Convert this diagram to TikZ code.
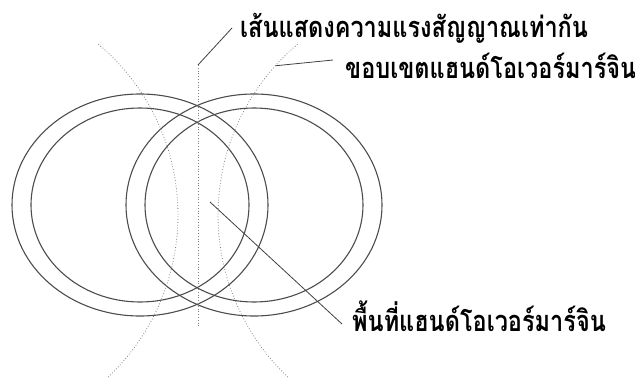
\documentclass[tikz,border=0pt]{standalone}
\usepackage{fontspec}
\newfontfamily\thaifont[Script=Thai, FakeStretch=0.81]{Loma}
\tikzset{
  ring/.style={line width=1.1pt, draw=black!70},
  zone/.style={dotted, line width=0.8pt, draw=black!50},
  leader/.style={line width=0.8pt, draw=black!75},
  thailabel/.style={font=\thaifont\bfseries\fontsize{29}{29}\selectfont, inner sep=0pt, anchor=base west},
}
\begin{document}
\begin{tikzpicture}[x=1pt, y=-1pt]
  \useasboundingbox (0,0) rectangle (635,380);
  % two cells
  \coordinate (cellA) at (140,205);
  \coordinate (cellB) at (254,205);
  \draw[ring] (cellA) ellipse [x radius=128, y radius=111];
  \draw[ring] (cellA) ellipse [x radius=109, y radius=97];
  \draw[ring] (cellB) ellipse [x radius=128, y radius=111];
  \draw[ring] (cellB) ellipse [x radius=109, y radius=97];
  % handover margin boundaries
  \draw[zone] plot[domain=-50:47, samples=50] ({-45+223*cos(\x)}, {215+223*sin(\x)});
  \draw[zone] plot[domain=-50:47, samples=50] ({441-223*cos(\x)}, {215+223*sin(\x)});
  % equal signal line
  \coordinate (eqtop) at (198,65);
  \coordinate (eqbot) at (198,328);
  \draw[zone] (eqtop) -- (eqbot);
  % labels
  \node[thailabel] (eqtext) at (240,37) {เส้นแสดงความแรงสัญญาณเท่ากัน};
  \node[thailabel] (hmtext) at (345,78) {ขอบเขตแฮนด์โอเวอร์มาร์จิน};
  \node[thailabel] (areatext) at (352,331) {พื้นที่แฮนด์โอเวอร์มาร์จิน};
  \coordinate (eqtip) at ([shift={(-8,-9)}]eqtext.base west);
  \coordinate (hmfoot) at ({441-223*cos(-42)}, {215+223*sin(-42)});
  \coordinate (hmtip) at ([shift={(-12,-18)}]hmtext.base west);
  \coordinate (areafoot) at (210,202);
  \coordinate (areatip) at ([shift={(-10,-7)}]areatext.base west);
  \draw[leader] (eqtop) -- (eqtip);
  \draw[leader] (hmfoot) -- (hmtip);
  \draw[leader] (areafoot) -- (areatip);
\end{tikzpicture}
\end{document}
